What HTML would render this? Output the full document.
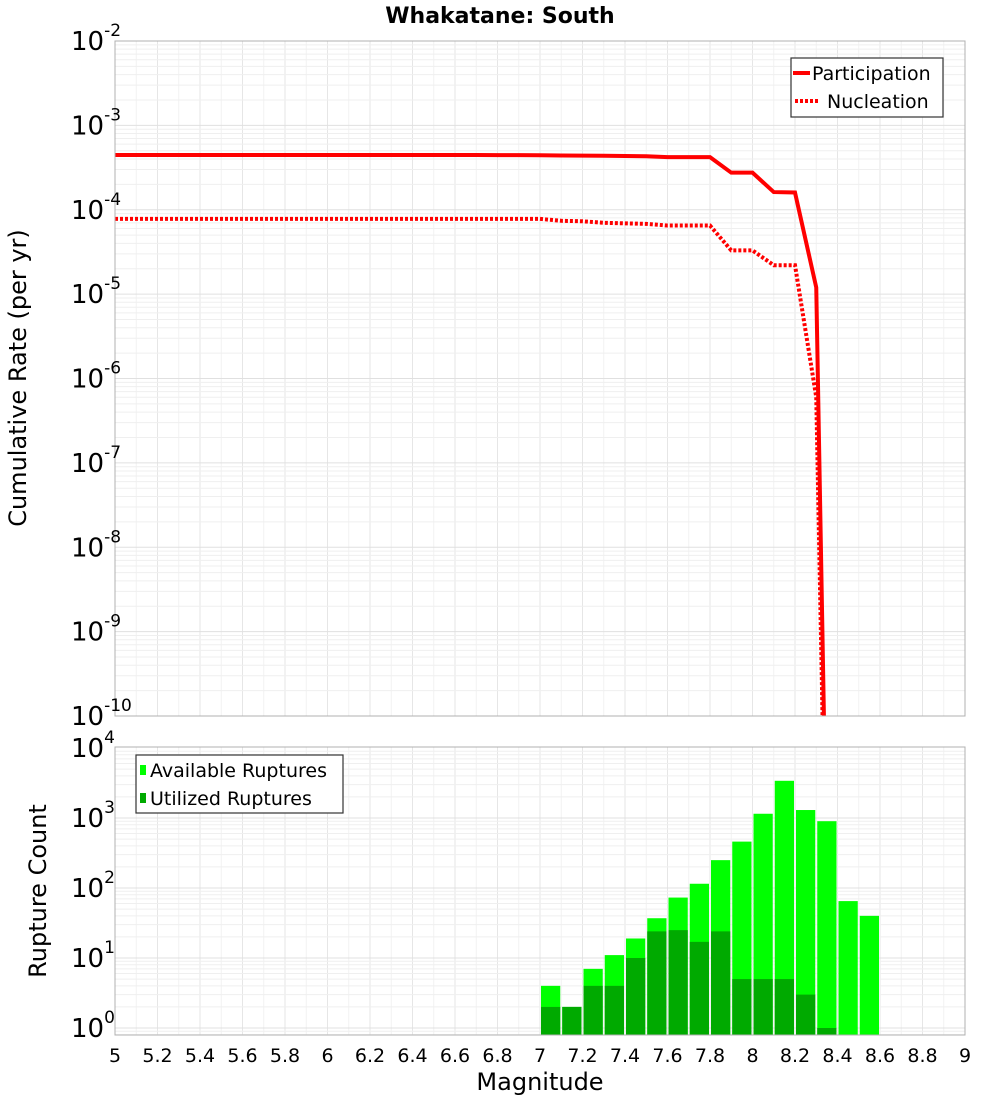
<!DOCTYPE html>
<html style="margin:0;width:1000px;height:1100px;overflow:hidden"><head><meta charset="utf-8"><style>
body{margin:0;background:#fff;width:1000px;height:1100px;overflow:hidden}
svg{font-family:"DejaVu Sans","Liberation Sans",sans-serif;display:block}
</style></head><body>
<svg id="chart" width="1000" height="1100" xmlns="http://www.w3.org/2000/svg">
<text x="500" y="23" text-anchor="middle" font-size="22" font-weight="bold">Whakatane: South</text>
<g id="top-grid"></g>
<g id="bot-grid"></g>
<g id="top-series"></g>
<g id="bars"></g>
<rect x="115" y="41" width="850" height="675" fill="none" stroke="#b0b0b0"/>
<rect x="115" y="747" width="850" height="288" fill="none" stroke="#b0b0b0"/>
<g id="ticks"></g>
<text transform="translate(26,378) rotate(-90)" text-anchor="middle" font-size="24">Cumulative Rate (per yr)</text>
<text transform="translate(46,891) rotate(-90)" text-anchor="middle" font-size="24">Rupture Count</text>
<text x="540" y="1090" text-anchor="middle" font-size="24">Magnitude</text>
<g>
<rect x="791" y="58" width="152" height="59" fill="#fff" stroke="#333" stroke-width="1.2"/>
<line x1="793" y1="73" x2="810" y2="73" stroke="#f00" stroke-width="4"/>
<text x="812" y="80" font-size="19">Participation</text>
<line x1="795" y1="101" x2="820" y2="101" stroke="#f00" stroke-width="4" stroke-dasharray="3,2"/>
<text x="827" y="108" font-size="19">Nucleation</text>
</g>
<g>
<rect x="136" y="755" width="207" height="58" fill="#fff" stroke="#333" stroke-width="1.2"/>
<rect x="140" y="765" width="6" height="10" fill="#00ff00"/>
<text x="150" y="777" font-size="19">Available Ruptures</text>
<rect x="140" y="793" width="6" height="10" fill="#00aa00"/>
<text x="150" y="805" font-size="19">Utilized Ruptures</text>
</g>
</svg>
<script>
const mags=[5.0,5.1,5.2,5.3,5.4,5.5,5.6,5.7,5.8,5.9,6.0,6.1,6.2,6.3,6.4,6.5,6.6,6.7,6.8,6.9,7.0,7.1,7.2,7.3,7.4,7.5,7.6,7.7,7.8,7.9,8.0,8.1,8.2,8.3,8.4];
const participation=[4.45e-4,4.45e-4,4.45e-4,4.45e-4,4.45e-4,4.45e-4,4.45e-4,4.45e-4,4.45e-4,4.45e-4,4.45e-4,4.45e-4,4.45e-4,4.45e-4,4.45e-4,4.45e-4,4.45e-4,4.45e-4,4.44e-4,4.44e-4,4.43e-4,4.4e-4,4.38e-4,4.36e-4,4.34e-4,4.3e-4,4.2e-4,4.2e-4,4.2e-4,2.75e-4,2.75e-4,1.62e-4,1.6e-4,1.2e-5,1e-19];
const nucleation=[7.8e-5,7.8e-5,7.8e-5,7.8e-5,7.8e-5,7.8e-5,7.8e-5,7.8e-5,7.8e-5,7.8e-5,7.8e-5,7.8e-5,7.8e-5,7.8e-5,7.8e-5,7.8e-5,7.8e-5,7.8e-5,7.8e-5,7.8e-5,7.8e-5,7.4e-5,7.3e-5,7.0e-5,6.9e-5,6.8e-5,6.5e-5,6.5e-5,6.5e-5,3.3e-5,3.3e-5,2.2e-5,2.2e-5,6e-7,1e-19];
const binMags=[7.0,7.1,7.2,7.3,7.4,7.5,7.6,7.7,7.8,7.9,8.0,8.1,8.2,8.3,8.4,8.5];
const available=[4,2,7,11,19,37,73,115,250,460,1150,3400,1300,900,65,40];
const utilized=[2,2,4,4,10,24,25,17,24,5,5,5,3,1,0,0];
const xTicks=["5","5.2","5.4","5.6","5.8","6","6.2","6.4","6.6","6.8","7","7.2","7.4","7.6","7.8","8","8.2","8.4","8.6","8.8","9"];
const topDecades=[-2,-3,-4,-5,-6,-7,-8,-9,-10];
const botDecades=[4,3,2,1,0];
const NS="http://www.w3.org/2000/svg";
const X=m=>115+(m-5)*212.5;
const YT=v=>41+(-2-Math.log10(v))*84.375;
const YB=v=>1028-Math.log10(v)*70;
function mk(tag,attrs,parent){const e=document.createElementNS(NS,tag);for(const k in attrs)e.setAttribute(k,attrs[k]);parent.appendChild(e);return e;}
const tg=document.getElementById('top-grid'),bg=document.getElementById('bot-grid');
for(let i=0;i<=40;i++){const x=X(5+i*0.1);
 const l1=mk('line',{x1:x,x2:x,y1:41,y2:716,stroke:i%2?'#f2f2f2':'#e6e6e6'},tg);
 
 
 const l2=mk('line',{x1:x,x2:x,y1:747,y2:1035,stroke:i%2?'#f2f2f2':'#e6e6e6'},bg);
 
 }
for(let d=-10;d<-2;d++){for(let k=1;k<10;k++){const y=YT(k*Math.pow(10,d));
 const l=mk('line',{x1:115,x2:965,y1:y,y2:y,stroke:k==1?'#e0e0e0':'#efefef'},tg);
 
 }}
for(let d=-1;d<4;d++){for(let k=1;k<10;k++){const y=YB(k*Math.pow(10,d));if(y>1035||y<747)continue;
 const l=mk('line',{x1:115,x2:965,y1:y,y2:y,stroke:k==1?'#e0e0e0':'#efefef'},bg);
 
 }}
const ts=document.getElementById('top-series');
const clip=mk('clipPath',{id:'topclip'},ts);mk('rect',{x:115,y:41,width:850,height:675},clip);
function pts(arr){return mags.map((m,i)=>X(m)+','+YT(arr[i])).join(' ');}
const pn=mk('polyline',{points:pts(nucleation),fill:'none',stroke:'#f00','stroke-width':4,'stroke-dasharray':'3,2','clip-path':'url(#topclip)'},ts);


const pp=mk('polyline',{points:pts(participation),fill:'none',stroke:'#f00','stroke-width':4,'clip-path':'url(#topclip)'},ts);


const bars=document.getElementById('bars');
binMags.forEach((m,i)=>{const x0=X(m)+1,w=X(m+0.1)-X(m)-2;
 const ya=YB(available[i]);
 const a=mk('rect',{x:x0,y:ya,width:w,height:1035-ya,fill:'#00ff00'},bars);
 
 
 if(utilized[i]>0){const yu=YB(utilized[i]);
 const u=mk('rect',{x:x0,y:yu,width:w,height:1035-yu,fill:'#00aa00'},bars);
 
 }});
const tk=document.getElementById('ticks');
xTicks.forEach(t=>{const e=mk('text',{x:X(parseFloat(t)),y:1062,'text-anchor':'middle','font-size':19},tk);e.textContent=t;
 
 });
function ylab(y,exp,name){const e=mk('text',{x:71,y:y+9,'font-size':26},tk);e.textContent='10';
 const s=mk('tspan',{dy:-14,'font-size':17},e);s.textContent=String(exp);
 
 }
topDecades.forEach(d=>ylab(YT(Math.pow(10,d)),d,'y-tick-rate'));
botDecades.forEach(d=>ylab(YB(Math.pow(10,d)),d,'y-tick-count'));
</script>
</body></html>
